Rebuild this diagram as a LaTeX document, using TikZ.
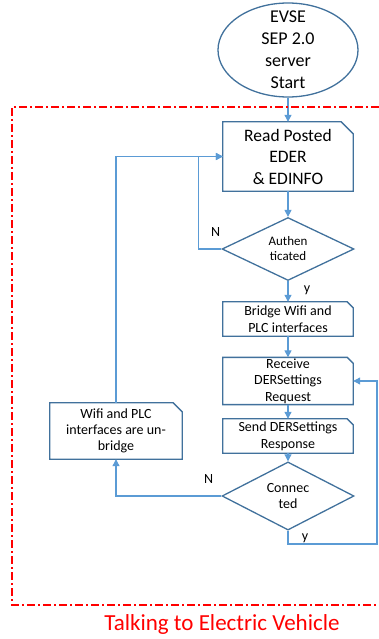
\documentclass[tikz,border=0pt]{standalone}
\usepackage{fontspec}
\setmainfont{Carlito}
\usetikzlibrary{arrows.meta,shapes.geometric,positioning}

\definecolor{boxblue}{HTML}{41719C}
\definecolor{linkblue}{HTML}{5B9BD5}

\tikzset{
   box/.style={minimum width=130pt, inner sep=1pt, align=center, font=\fontsize{14}{17}\selectfont},
   boxline/.style={draw=boxblue, line width=1.3pt, line join=miter},
   decision/.style={diamond, draw=boxblue, line width=1.3pt, inner sep=0pt, minimum width=132pt, minimum height=50pt, align=center},
   link/.style={draw=linkblue, line width=1.1pt},
   arr/.style={link, -{Triangle[length=7pt,width=7pt]}},
   lab/.style={font=\fontsize{14}{17}\selectfont},
   frame/.style={draw=red, line width=1.3pt, dash pattern=on 8pt off 3pt on 2pt off 3pt}
}

% outline of a box with its upper right corner cut off
\newcommand{\snipbox}[2][6pt]{%
   \draw[boxline] (#2.south west) -- (#2.north west) -- ([xshift=-#1]#2.north east)
      -- ([yshift=-#1]#2.north east) -- (#2.south east) -- cycle;}

\begin{document}
\begin{tikzpicture}[x=1pt, y=-1pt]
   \useasboundingbox (0,0) rectangle (379,639);

   \node[ellipse, draw=boxblue, line width=1.3pt, inner sep=-12pt, minimum width=140pt, minimum height=94pt,
      align=center, font=\fontsize{18}{22}\selectfont] (start) at (288,50) {EVSE\\SEP 2.0\\server\\Start};

   \node[box, minimum height=69pt, font=\fontsize{17.5}{21.5}\selectfont] (read) at (288,156.5) {Read Posted\\EDER\\\& EDINFO};
   \node[decision, font=\fontsize{13}{15}\selectfont] (auth) at (288,249) {Authen\\ticated};
   \node[box, minimum height=34pt] (bridge) at (288,319) {Bridge Wifi and\\PLC interfaces};
   \node[box, minimum height=46pt, font=\fontsize{14}{16.5}\selectfont] (recv) at (288,381) {Receive\\DERSettings\\Request};
   \node[box, minimum height=34pt] (send) at (288,436) {Send DERSettings\\Response};
   \node[decision, font=\fontsize{14}{16.5}\selectfont] (conn) at (288,496) {Connec\\ted};
   \node[box, minimum width=132pt, minimum height=56pt, font=\fontsize{14}{15.7}\selectfont] (unbr) at (116,431) {Wifi and PLC\\interfaces are un-\\bridge};

   \snipbox[12pt]{read}
   \snipbox{bridge}
   \snipbox{recv}
   \snipbox{send}
   \snipbox[9pt]{unbr}

   \coordinate (back) at (377,544);

   \draw[arr] (start.south) -- (read.north);
   \draw[arr] (read.south) -- (auth.north);
   \draw[arr] (auth.south) -- (bridge.north) node[lab, pos=0.45, right=12pt] {y};
   \draw[arr] (bridge.south) -- (recv.north);
   \draw[arr] (recv.south) -- (send.north);
   \draw[arr] (send.south) -- (conn.north);
   \draw[arr] (auth.west) -- ++(-23,0) node[lab, near start, above=9pt] {N} |- (read.west);
   \draw[arr] (unbr.north) |- (read.west);
   \draw[arr] (conn.west) -| (unbr.south) node[lab, pos=0.06, above=9pt] {N};
   \draw[arr] (conn.south) |- (back) node[lab, pos=0.3, right=10pt] {y} |- (recv.east);

   \draw[frame] (379,107) -- (12,107) -- (12,605) -- (379,605);
   \node[text=red, font=\fontsize{23}{27}\selectfont] (title) at (222,624) {Talking to Electric Vehicle};
\end{tikzpicture}
\end{document}
